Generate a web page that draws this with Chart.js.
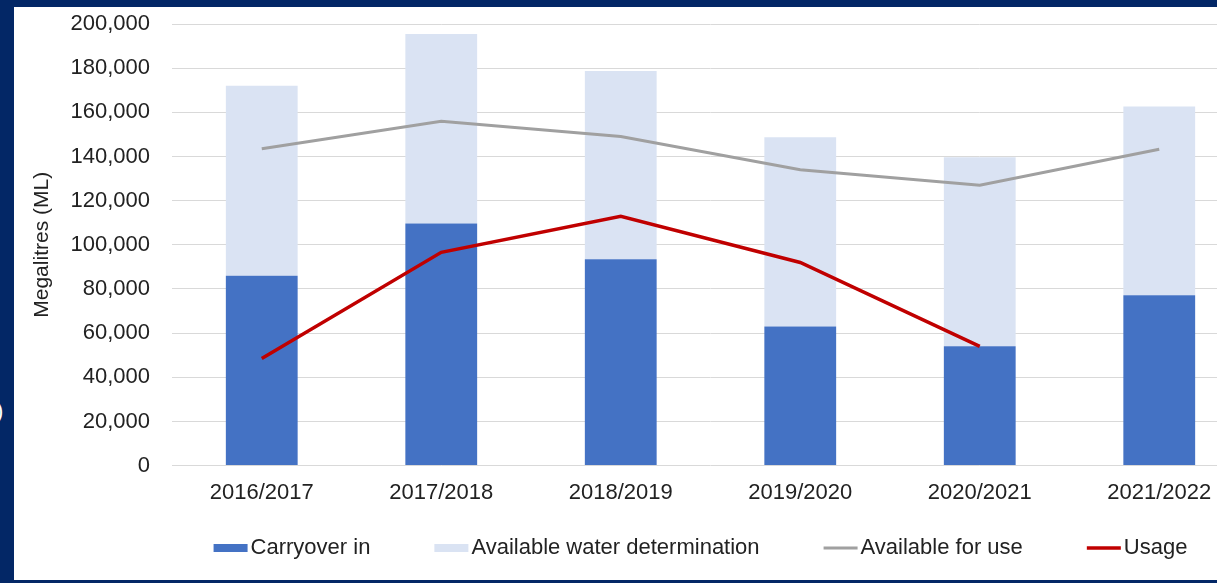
<!DOCTYPE html>
<html>
<head>
<meta charset="utf-8">
<script src="https://cdn.jsdelivr.net/npm/chart.js@4"></script>
<style>
  html, body { margin: 0; padding: 0; }
  body { width: 1217px; height: 583px; overflow: hidden; background: #032766; position: relative; font-family: 'Liberation Sans', Arial, sans-serif; }
  #frame { position: absolute; left: 14px; top: 7px; width: 1235px; height: 573px; background: #fff; }
  #stray { position: absolute; left: -4px; top: 398px; color: #fff; font-size: 22px; }
</style>
</head>
<body>
<span id="stray">)</span>
<div id="frame"><canvas id="chart"></canvas></div>
<script>
  // --- DATA ---
  const seasons = ['2016/2017', '2017/2018', '2018/2019', '2019/2020', '2020/2021', '2021/2022'];
  const carryoverIn = [86000, 109600, 93400, 63000, 54000, 77100];
  const availableWaterDetermination = [86000, 85900, 85300, 85750, 85700, 85500];
  const availableForUse = [143500, 156000, 149000, 134000, 127000, 143300];
  const usage = [48500, 96600, 112900, 92000, 54000, null];
  const yTicks = { min: 0, max: 200000, step: 20000 };

  const FONT = "'Liberation Sans', Arial, sans-serif";
  const TEXT = '#222222';

  const fmtInt = (n) => Number(n).toLocaleString('en-US');

  // Excel-style legend: short swatch, tight gap to text, drawn under the plot area
  const bottomLegend = {
    id: 'bottomLegend',
    afterDraw(chart) {
      const { ctx, chartArea } = chart;
      const swatchW = 34, textGap = 3, itemGap = 64;
      ctx.save();
      ctx.font = `22px ${FONT}`;
      const items = chart.data.datasets.map(ds => ({ ds, w: ctx.measureText(ds.label).width }));
      const total = items.reduce((s, it) => s + swatchW + textGap + it.w, 0) + itemGap * (items.length - 1);
      let x = (chartArea.left + chartArea.right) / 2 - 10 - total / 2;
      const y = 541;
      ctx.textBaseline = 'middle';
      items.forEach(({ ds, w }) => {
        if (ds.type === 'line') {
          ctx.strokeStyle = ds.borderColor;
          ctx.lineWidth = ds.borderWidth;
          ctx.beginPath();
          ctx.moveTo(x, y);
          ctx.lineTo(x + swatchW, y);
          ctx.stroke();
        } else {
          ctx.fillStyle = ds.backgroundColor;
          ctx.fillRect(x, y - 4, swatchW, 8);
        }
        ctx.fillStyle = TEXT;
        ctx.fillText(ds.label, x + swatchW + textGap, y);
        x += swatchW + textGap + w + itemGap;
      });
      ctx.restore();
    }
  };

  new Chart(document.getElementById('chart'), {
    type: 'bar',
    data: {
      labels: seasons,
      datasets: [
        { label: 'Carryover in', data: carryoverIn, backgroundColor: '#4472C4', stack: 'bars', order: 1 },
        { label: 'Available water determination', data: availableWaterDetermination, backgroundColor: '#DAE3F3', stack: 'bars', order: 1 },
        { type: 'line', label: 'Available for use', data: availableForUse, borderColor: '#A0A0A0', borderWidth: 3, pointRadius: 0, tension: 0, stack: 'afu', order: 0 },
        { type: 'line', label: 'Usage', data: usage, borderColor: '#C00000', borderWidth: 3.5, pointRadius: 0, tension: 0, stack: 'use', order: 0 }
      ]
    },
    options: {
      responsive: true,
      maintainAspectRatio: false,
      animation: false,
      layout: { padding: { top: 0, right: 0, bottom: 60, left: 0 } },
      datasets: { bar: { categoryPercentage: 0.4, barPercentage: 1 } },
      scales: {
        x: {
          stacked: true,
          grid: { display: false, drawTicks: false },
          border: { display: false },
          ticks: { color: TEXT, font: { family: FONT, size: 22 }, padding: 14, maxRotation: 0 }
        },
        y: {
          stacked: true,
          min: yTicks.min,
          max: yTicks.max,
          afterFit: (s) => { s.width = 158; s.paddingTop = 17; s.paddingBottom = 0; },
          grid: { color: '#D9D9D9', lineWidth: 1, drawTicks: false },
          border: { display: false },
          ticks: { stepSize: yTicks.step, color: TEXT, padding: 22, font: { family: FONT, size: 22 }, callback: (v) => fmtInt(v) },
          title: { display: true, text: 'Megalitres (ML)', color: TEXT, font: { family: FONT, size: 21 }, padding: { top: 16, bottom: 0 } }
        }
      },
      plugins: {
        tooltip: { enabled: false },
        legend: { display: false }
      }
    },
    plugins: [bottomLegend]
  });
</script>
</body>
</html>
